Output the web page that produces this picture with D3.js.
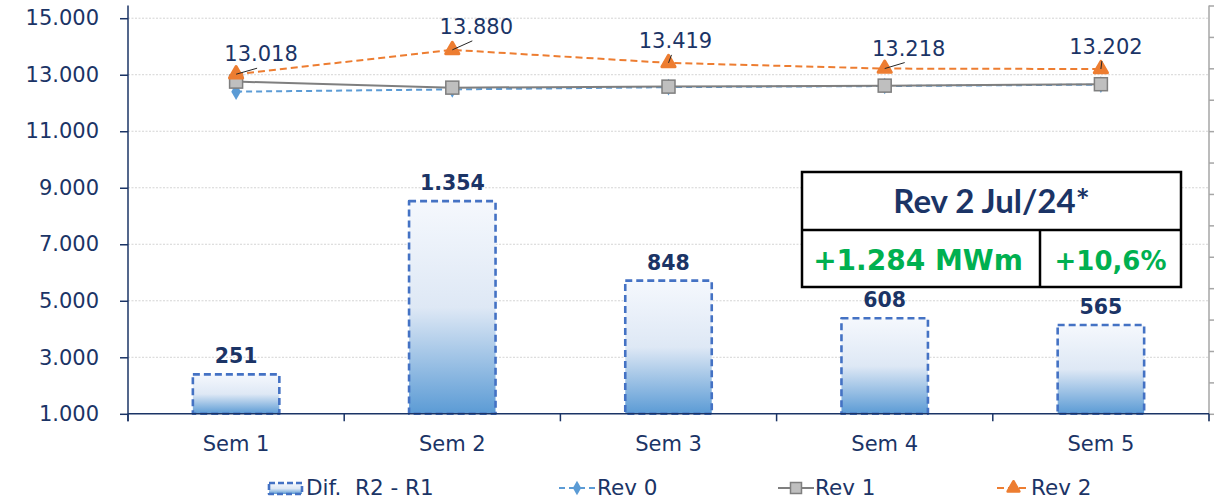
<!DOCTYPE html>
<html>
<head>
<meta charset="utf-8">
<script src="https://cdn.jsdelivr.net/npm/d3@7"></script>
<style>
  html, body { margin: 0; padding: 0; background: #fff; }
  svg { display: block; }
  text { font-family: "DejaVu Sans", Verdana, sans-serif; }
</style>
</head>
<body>
<svg id="chart" width="1219" height="499"></svg>
<script>
// ---------- data ----------
const categories = ["Sem 1", "Sem 2", "Sem 3", "Sem 4", "Sem 5"];
const difR2R1 = [251, 1354, 848, 608, 565];
const rev0 = [12400, 12480, 12560, 12600, 12650];
const rev1 = [12756, 12543, 12579, 12614, 12664];
const rev2 = [13018, 13880, 13419, 13218, 13202];
const leftTicks = [1000, 3000, 5000, 7000, 9000, 11000, 13000, 15000];
const rightTicks = [0, 200, 400, 600, 800, 1000, 1200, 1400, 1600, 1800, 2000, 2200, 2400, 2600];
const seriesNames = ["Dif.  R2 - R1", "Rev 0", "Rev 1", "Rev 2"];
const tableTitle = "Rev 2 Jul/24*";
const tableValues = ["+1.284 MWm", "+10,6%"];

// label placement of Rev 2 data labels relative to their point (dx to centre, dy to baseline)
const rev2LabelOffsets = [[25, -13], [24, -16], [7, -15], [24, -13], [5, -15]];

// ---------- layout ----------
const plot = { left: 128, right: 1209, top: 5.5, bottom: 413.8 };
const navy = "#1B3466";
const svg = d3.select("#chart");

const locale = d3.formatLocale({ decimal: ",", thousands: ".", grouping: [3], currency: ["", ""] });
const fmt = locale.format(",d");

const x = d3.scaleBand().domain(categories).range([plot.left, plot.right])
  .paddingInner(0.6).paddingOuter(0.3);
const cx = c => x(c) + x.bandwidth() / 2;
const yL = d3.scaleLinear().domain([1000, 15450]).range([plot.bottom, plot.top]);
const yR = d3.scaleLinear().domain([0, 2600]).range([plot.bottom, plot.top]);

// gradient
const defs = svg.append("defs");
const grad = defs.append("linearGradient").attr("id", "barGrad")
  .attr("x1", 0).attr("y1", 0).attr("x2", 0).attr("y2", 1);
grad.append("stop").attr("offset", "0%").attr("stop-color", "#F5F8FD");
grad.append("stop").attr("offset", "50%").attr("stop-color", "#DEE8F5");
grad.append("stop").attr("offset", "100%").attr("stop-color", "#5B9BD5");

// gridlines
svg.append("g").selectAll("line").data(leftTicks.filter(d => d !== 1000)).join("line")
  .attr("x1", plot.left).attr("x2", plot.right)
  .attr("y1", d => yL(d)).attr("y2", d => yL(d))
  .attr("stroke", "#D4D4D4").attr("stroke-width", 1).attr("stroke-dasharray", "2,1.5");

// left axis
const gL = svg.append("g").attr("transform", `translate(${plot.left},0)`)
  .call(d3.axisLeft(yL).tickValues(leftTicks).tickFormat(fmt).tickSize(8).tickPadding(21));
gL.select(".domain").remove();
gL.selectAll(".tick line").attr("stroke", navy).attr("stroke-width", 1.5);
gL.selectAll(".tick text").attr("fill", navy).style("font-size", "21px")
  .style("font-family", "'DejaVu Sans', Verdana, sans-serif");
svg.append("line").attr("x1", plot.left).attr("x2", plot.left)
  .attr("y1", plot.top).attr("y2", plot.bottom + 7.5).attr("stroke", navy).attr("stroke-width", 1.5);

// right axis (secondary, no labels)
const gR = svg.append("g").attr("transform", `translate(${plot.right},0)`)
  .call(d3.axisRight(yR).tickValues(rightTicks).tickFormat("").tickSize(5));
gR.select(".domain").remove();
gR.selectAll(".tick line").attr("stroke", "#A6A6A6").attr("stroke-width", 1.5);
svg.append("line").attr("x1", plot.right).attr("x2", plot.right)
  .attr("y1", plot.top).attr("y2", plot.bottom + 7.5).attr("stroke", "#A6A6A6").attr("stroke-width", 1.5);

// bars (secondary axis)
svg.append("g").selectAll("rect").data(difR2R1).join("rect")
  .attr("x", (d, i) => x(categories[i]))
  .attr("width", x.bandwidth())
  .attr("y", d => yR(d))
  .attr("height", d => yR(0) - yR(d))
  .attr("fill", "url(#barGrad)")
  .attr("stroke", "#4472C4").attr("stroke-width", 2.6)
  .attr("stroke-dasharray", "7,4").attr("stroke-linejoin", "round");

// bar labels
svg.append("g").selectAll("text").data(difR2R1).join("text")
  .attr("x", (d, i) => cx(categories[i]))
  .attr("y", d => yR(d) - 11)
  .attr("text-anchor", "middle")
  .attr("fill", navy).style("font-size", "20.5px").style("font-weight", "bold")
  .text(d => fmt(d));

// bottom axis
svg.append("line").attr("x1", plot.left).attr("x2", plot.right)
  .attr("y1", plot.bottom).attr("y2", plot.bottom).attr("stroke", navy).attr("stroke-width", 1.5);
const gB = svg.append("g").attr("transform", `translate(0,${plot.bottom})`)
  .call(d3.axisBottom(x).tickSize(0).tickPadding(22));
gB.select(".domain").remove();
gB.selectAll(".tick text").attr("fill", navy).style("font-size", "21px")
  .style("font-family", "'DejaVu Sans', Verdana, sans-serif");
svg.append("g").selectAll("line").data(d3.range(categories.length + 1)).join("line")
  .attr("x1", i => plot.left + i * x.step()).attr("x2", i => plot.left + i * x.step())
  .attr("y1", plot.bottom).attr("y2", plot.bottom + 7.5)
  .attr("stroke", navy).attr("stroke-width", 1.5);

// lines
const line = d3.line().x((d, i) => cx(categories[i])).y(d => yL(d));
const styles = {
  rev0: { color: "#5B9BD5", dash: "6,4" },
  rev1: { color: "#7F7F7F", dash: null },
  rev2: { color: "#ED7D31", dash: "7,4" }
};
function drawSeries(data, st) {
  svg.append("path").datum(data).attr("d", line).attr("fill", "none")
    .attr("stroke", st.color).attr("stroke-width", 2)
    .attr("stroke-dasharray", st.dash);
}
drawSeries(rev0, styles.rev0);
svg.append("g").selectAll("path").data(rev0).join("path")
  .attr("d", d3.symbol(d3.symbolDiamond, 80))
  .attr("transform", (d, i) => `translate(${cx(categories[i])},${yL(d)})`)
  .attr("fill", "#5B9BD5");

drawSeries(rev1, styles.rev1);
svg.append("g").selectAll("rect").data(rev1).join("rect")
  .attr("x", (d, i) => cx(categories[i]) - 6.5).attr("y", d => yL(d) - 6.5)
  .attr("width", 13).attr("height", 13)
  .attr("fill", "#BFBFBF").attr("stroke", "#7F7F7F").attr("stroke-width", 1.5);

drawSeries(rev2, styles.rev2);
svg.append("g").selectAll("path").data(rev2).join("path")
  .attr("d", d3.symbol(d3.symbolTriangle, 75))
  .attr("transform", (d, i) => `translate(${cx(categories[i])},${yL(d)})`)
  .attr("fill", "#ED7D31").attr("stroke", "#ED7D31").attr("stroke-width", 3)
  .attr("stroke-linejoin", "round");

// leader lines + labels for Rev 2
rev2.forEach((v, i) => {
  const px = cx(categories[i]), py = yL(v);
  const lx = px + rev2LabelOffsets[i][0], ly = py + rev2LabelOffsets[i][1];
  svg.append("line").attr("x1", px).attr("y1", py)
    .attr("x2", lx - 4).attr("y2", ly + 7)
    .attr("stroke", "#262626").attr("stroke-width", 1);
  svg.append("text").attr("x", lx).attr("y", ly).attr("text-anchor", "middle")
    .attr("fill", navy).style("font-size", "21px").text(fmt(v));
});

// summary table
const tb = { x0: 802, x1: 1181, y0: 172, ymid: 230, y1: 287, xmid: 1040 };
const gT = svg.append("g");
gT.append("rect").attr("x", tb.x0).attr("y", tb.y0)
  .attr("width", tb.x1 - tb.x0).attr("height", tb.y1 - tb.y0)
  .attr("fill", "#fff").attr("stroke", "#000").attr("stroke-width", 2.5);
gT.append("line").attr("x1", tb.x0).attr("x2", tb.x1).attr("y1", tb.ymid).attr("y2", tb.ymid)
  .attr("stroke", "#000").attr("stroke-width", 2.5);
gT.append("line").attr("x1", tb.xmid).attr("x2", tb.xmid).attr("y1", tb.ymid).attr("y2", tb.y1)
  .attr("stroke", "#000").attr("stroke-width", 2.5);
gT.append("text").attr("x", (tb.x0 + tb.x1) / 2).attr("y", 213).attr("text-anchor", "middle")
  .attr("fill", navy).style("font-family", "Lato, 'Open Sans', sans-serif")
  .style("font-size", "33px").style("font-weight", "bold").text(tableTitle);
gT.append("text").attr("x", (tb.x0 + tb.xmid) / 2 - 3).attr("y", 270).attr("text-anchor", "middle")
  .attr("fill", "#00B050").style("font-size", "28px").style("font-weight", "bold").text(tableValues[0]);
gT.append("text").attr("x", (tb.xmid + tb.x1) / 2).attr("y", 270).attr("text-anchor", "middle")
  .attr("fill", "#00B050").style("font-size", "26px").style("font-weight", "bold").text(tableValues[1]);

// legend
const lgY = 488;
const lg = svg.append("g");
lg.append("rect").attr("x", 269).attr("y", lgY - 5).attr("width", 33).attr("height", 11)
  .attr("fill", "url(#barGrad)").attr("stroke", "#4472C4").attr("stroke-width", 2.6)
  .attr("stroke-dasharray", "6,3").attr("stroke-linejoin", "round");
const legendItems = [
  { name: seriesNames[0], tx: 306 },
  { name: seriesNames[1], tx: 597, lx0: 559, lx1: 595, st: styles.rev0, mark: "diamond" },
  { name: seriesNames[2], tx: 815, lx0: 778, lx1: 814, st: styles.rev1, mark: "square" },
  { name: seriesNames[3], tx: 1031, lx0: 997, lx1: 1030, st: styles.rev2, mark: "triangle" }
];
legendItems.forEach(it => {
  if (it.st) {
    lg.append("line").attr("x1", it.lx0).attr("x2", it.lx1).attr("y1", lgY).attr("y2", lgY)
      .attr("stroke", it.st.color).attr("stroke-width", 2).attr("stroke-dasharray", it.st.dash);
    const mx = (it.lx0 + it.lx1) / 2;
    if (it.mark === "diamond") {
      lg.append("path").attr("d", d3.symbol(d3.symbolDiamond, 60)).attr("transform", `translate(${mx},${lgY})`).attr("fill", "#5B9BD5");
    } else if (it.mark === "square") {
      lg.append("rect").attr("x", mx - 5.5).attr("y", lgY - 5.5).attr("width", 11).attr("height", 11)
        .attr("fill", "#BFBFBF").attr("stroke", "#7F7F7F").attr("stroke-width", 1.5);
    } else {
      lg.append("path").attr("d", d3.symbol(d3.symbolTriangle, 60)).attr("transform", `translate(${mx},${lgY})`)
        .attr("fill", "#ED7D31").attr("stroke", "#ED7D31").attr("stroke-width", 2.5).attr("stroke-linejoin", "round");
    }
  }
  lg.append("text").attr("x", it.tx).attr("y", lgY + 7).attr("fill", navy)
    .style("font-size", "21.5px").style("white-space", "pre").attr("xml:space", "preserve").text(it.name);
});
</script>
</body>
</html>
